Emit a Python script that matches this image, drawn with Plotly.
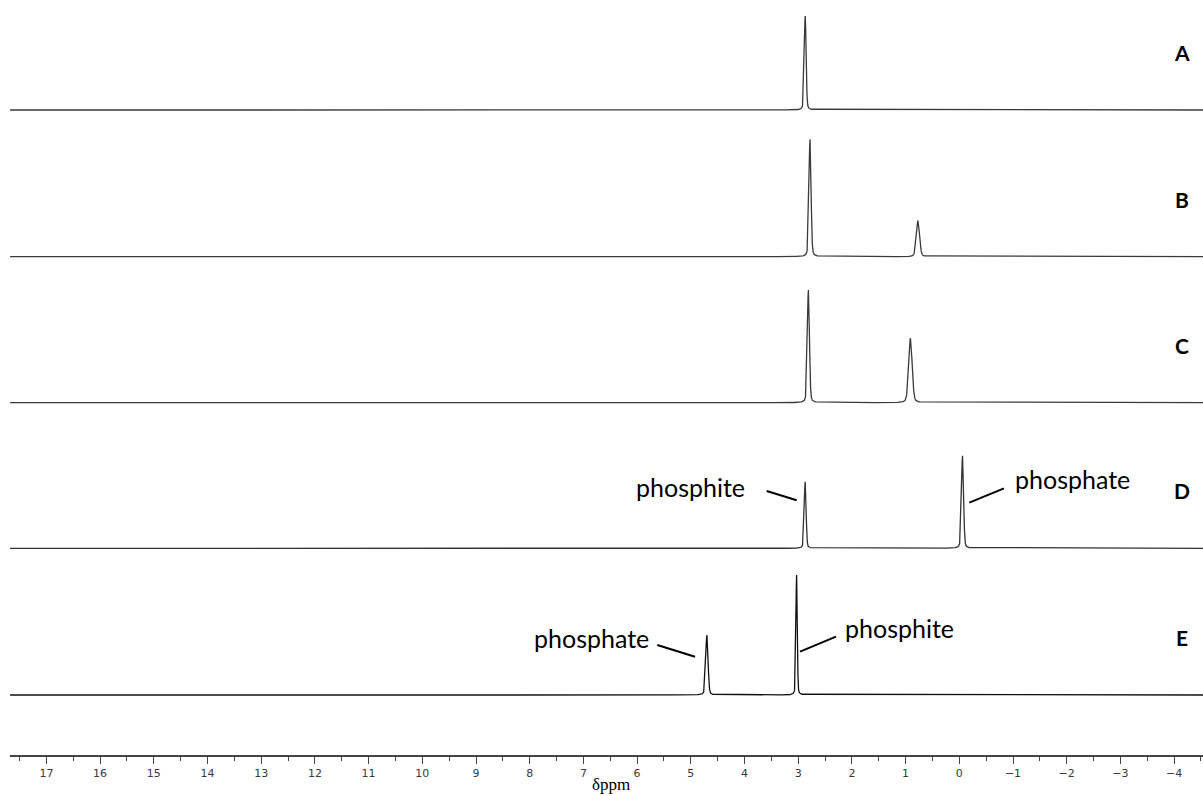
import numpy as np
import plotly.graph_objects as go

# Stacked 31P spectra, one row per sample (top to bottom)
labels = ["A", "B", "C", "D", "E"]
offsets = [645.0, 498.3, 352.3, 206.7, 60.0]          # vertical stacking offsets
peak_ppm = [[2.87], [2.78, 0.77], [2.81, 0.91], [2.87, -0.06], [3.03, 4.70]]
peak_height = [[94.0], [117.4, 36.0], [112.7, 64.4], [66.6, 92.6], [120.0, 60.0]]
peak_fwhm = [[0.04], [0.045, 0.07], [0.045, 0.075], [0.04, 0.045], [0.03, 0.05]]
line_colors = ["#3a3a3a", "#3a3a3a", "#3a3a3a", "#333333", "#111111"]

tick_vals = list(range(17, -5, -1))
x_range = [17.678, -4.538]

grid = np.arange(x_range[1], x_range[0], 0.002)
ETA = 0.25  # Lorentzian fraction of the pseudo-Voigt line shape


def spectrum(centers, heights, widths):
    x = np.union1d(grid, np.array(centers))
    y = np.zeros_like(x)
    for c, h, w in zip(centers, heights, widths):
        d = x - c
        lor = 1.0 / (1.0 + (2.0 * d / w) ** 2)
        gau = np.exp(-4.0 * np.log(2.0) * (d / w) ** 2)
        y += h * (ETA * lor + (1.0 - ETA) * gau)
    return x, y


fig = go.Figure()
for lab, off, cs, hs, ws, col in zip(labels, offsets, peak_ppm, peak_height, peak_fwhm, line_colors):
    x, y = spectrum(cs, hs, ws)
    fig.add_trace(go.Scatter(x=x, y=y + off, mode="lines", name=lab,
                             line=dict(color=col, width=1.3), showlegend=False,
                             hoverinfo="skip"))

annotations = []
# sample letters on the right
for lab, off in zip(labels, offsets):
    annotations.append(dict(x=-4.141, y=off + 57.5, text="<b>%s</b>" % lab, showarrow=False,
                            xanchor="center", yanchor="middle",
                            font=dict(family="Lato", size=21, color="#000000")))

label_font = dict(family="Lato", size=25, color="#000000")
# D: phosphite (left of peak), phosphate (right of peak)
annotations.append(dict(x=3.959, y=offsets[3] + 61.6, text="phosphite", showarrow=False,
                        xanchor="right", yanchor="middle", font=label_font))
annotations.append(dict(x=-0.994, y=offsets[3] + 69.0, text="phosphate", showarrow=False,
                        xanchor="left", yanchor="middle", font=label_font))
# E: phosphate (left), phosphite (right)
annotations.append(dict(x=5.747, y=offsets[4] + 57.0, text="phosphate", showarrow=False,
                        xanchor="right", yanchor="middle", font=label_font))
annotations.append(dict(x=2.160, y=offsets[4] + 66.7, text="phosphite", showarrow=False,
                        xanchor="left", yanchor="middle", font=label_font))

# axis title, placed below the tick labels
annotations.append(dict(x=0.504, xref="paper", y=-0.0545, yref="paper", text="δppm",
                        showarrow=False, xanchor="center", yanchor="bottom",
                        font=dict(family="Liberation Serif", size=17, color="#000000")))

leader = dict(color="#000000", width=2)
shapes = [
    dict(type="line", x0=3.587, y0=offsets[3] + 57.3, x1=3.028, y1=offsets[3] + 48.0, line=leader),
    dict(type="line", x0=-0.186, y0=offsets[3] + 45.6, x1=-0.832, y1=offsets[3] + 60.0, line=leader),
    dict(type="line", x0=5.624, y0=offsets[4] + 50.0, x1=4.922, y1=offsets[4] + 38.3, line=leader),
    dict(type="line", x0=2.296, y0=offsets[4] + 58.3, x1=2.966, y1=offsets[4] + 43.3, line=leader),
]

fig.update_layout(
    width=1203, height=796,
    margin=dict(l=10, r=0, t=0, b=41),
    paper_bgcolor="white", plot_bgcolor="white",
    annotations=annotations, shapes=shapes,
    xaxis=dict(range=x_range, showgrid=False, zeroline=False,
               showline=True, linecolor="#444444", linewidth=1.5,
               ticks="outside", ticklen=7, tickwidth=1.2, tickcolor="#444444",
               tickvals=tick_vals, ticktext=[("−%d" % -v) if v < 0 else str(v) for v in tick_vals],
               tickfont=dict(family="DejaVu Sans", size=11, color="#3a3a3a"),
               minor=dict(ticks="outside", ticklen=4, tickwidth=1, tickcolor="#444444",
                          dtick=0.5, showgrid=False)),
    yaxis=dict(range=[0, 755], visible=False, showgrid=False, zeroline=False),
)

fig.write_html("out.html")
